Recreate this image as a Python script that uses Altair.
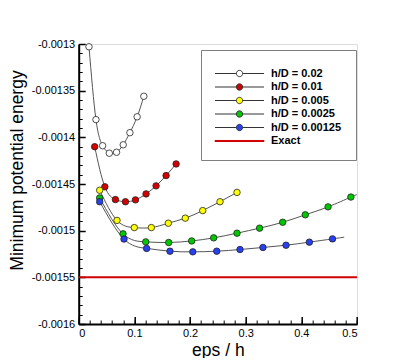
import altair as alt
import pandas as pd

# ---- data ----
series_names = ["h/D = 0.02", "h/D = 0.01", "h/D = 0.005", "h/D = 0.0025", "h/D = 0.00125", "Exact"]
series_colors = ["#ffffff", "#d40000", "#ffff00", "#00c800", "#2840f0", "#d00000"]

white_x = [0.0185, 0.031, 0.043, 0.055, 0.068, 0.080, 0.092, 0.105, 0.117]
white_y = [-0.001303, -0.001381, -0.001409, -0.001417, -0.001416, -0.001408, -0.001395, -0.001378, -0.001356]

red_x = [0.0287, 0.047, 0.066, 0.084, 0.102, 0.121, 0.139, 0.157, 0.175]
red_y = [-0.00141, -0.001453, -0.0014667, -0.001469, -0.001467, -0.0014606, -0.001452, -0.001441, -0.0014285]

yellow_x = [0.0377, 0.0688, 0.0999, 0.1305, 0.161, 0.1915, 0.2228, 0.2539, 0.2844]
yellow_y = [-0.0014567, -0.001489, -0.0014967, -0.0014967, -0.001492, -0.0014866, -0.0014785, -0.001469, -0.001459]

green_x = [0.0377, 0.0796, 0.1204, 0.1617, 0.203, 0.2425, 0.2844, 0.325, 0.3665, 0.4071, 0.448, 0.489]
green_y = [-0.0014649, -0.0015034, -0.001512, -0.0015127, -0.001511, -0.0015077, -0.0015027, -0.0014973,
           -0.001491, -0.001483, -0.0014745, -0.001464]
green_line_end = (0.5, -0.0014613)

blue_x = [0.0377, 0.0814, 0.122, 0.164, 0.205, 0.248, 0.2898, 0.331, 0.3725, 0.4144, 0.456]
blue_y = [-0.001469, -0.001509, -0.001519, -0.001522, -0.0015227, -0.001522, -0.0015202, -0.001518,
          -0.0015156, -0.0015123, -0.0015088]
blue_line_end = (0.477, -0.001507)

exact_x = [0.0, 0.5]
exact_y = [-0.00155, -0.00155]

x_major = [0, 0.1, 0.2, 0.3, 0.4, 0.5]
y_major = [-0.0016, -0.00155, -0.0015, -0.00145, -0.0014, -0.00135, -0.0013]
x_minor = [round(i * 0.02, 4) for i in range(26)]
y_minor = [round(-0.0016 + i * 0.00001, 7) for i in range(31)]

# ---- tables ----
pts_rows, line_rows = [], []
for name, col, xs, ys, tail in [
    (series_names[0], series_colors[0], white_x, white_y, None),
    (series_names[1], series_colors[1], red_x, red_y, None),
    (series_names[2], series_colors[2], yellow_x, yellow_y, None),
    (series_names[3], series_colors[3], green_x, green_y, green_line_end),
    (series_names[4], series_colors[4], blue_x, blue_y, blue_line_end),
]:
    for xv, yv in zip(xs, ys):
        pts_rows.append({"series": name, "x": xv, "y": yv, "color": col})
        line_rows.append({"series": name, "x": xv, "y": yv})
    if tail is not None:
        line_rows.append({"series": name, "x": tail[0], "y": tail[1]})

pts = pd.DataFrame(pts_rows)
lines = pd.DataFrame(line_rows)
exact = pd.DataFrame({"x": exact_x, "y": exact_y})
legend_df = pd.DataFrame({"series": series_names})

W, H = 278.3, 280
FONT = "Liberation Sans"

xscale = alt.Scale(domain=[0, 0.5], nice=False, zero=False)
yscale = alt.Scale(domain=[-0.0016, -0.0013], nice=False, zero=False)

main_x_axis = alt.Axis(orient="bottom", values=x_major, labelExpr="format(datum.value, '.1~f')",
                       ticks=False, tickSize=0, domainColor="black", domainWidth=2, grid=False,
                       labelFont=FONT, labelFontSize=11, labelColor="black", labelPadding=3,
                       title="eps / h", titleFont=FONT, titleFontSize=17.5, titleFontWeight="normal",
                       titleColor="black", titlePadding=3)
main_y_axis = alt.Axis(orient="left", values=y_major, labelExpr="'-' + format(-datum.value, '.5~f')",
                       ticks=False, tickSize=0, domainColor="black", domainWidth=2, grid=False,
                       labelFont=FONT, labelFontSize=11, labelColor="black", labelPadding=4,
                       title="Minimum potential energy", titleFont=FONT, titleFontSize=17.5,
                       titleFontWeight="normal", titleColor="black", titlePadding=5, titleY=126)

major_x_ticks = alt.Axis(orient="top", offset=-H, values=x_major, labels=False, domain=False, grid=False,
                         tickSize=7.5, tickWidth=1.5, tickColor="black", title=None)
major_y_ticks = alt.Axis(orient="right", offset=-W, values=y_major, labels=False, domain=False, grid=False,
                         tickSize=6.5, tickWidth=1.5, tickColor="black", title=None)
minor_x_ticks = alt.Axis(orient="top", offset=-H, values=x_minor, labels=False, domain=False, grid=False,
                         tickSize=4, tickWidth=1, tickColor="black", title=None)
minor_y_ticks = alt.Axis(orient="right", offset=-W, values=y_minor, labels=False, domain=False, grid=False,
                         tickSize=3.5, tickWidth=1, tickColor="black", title=None)

exact_layer = alt.Chart(exact).mark_line(color="#d00000", strokeWidth=2).encode(
    x=alt.X("x:Q", scale=xscale, axis=main_x_axis),
    y=alt.Y("y:Q", scale=yscale, axis=main_y_axis),
)

curve_layer = alt.Chart(lines).mark_line(color="#555555", strokeWidth=1, interpolate="natural").encode(
    x=alt.X("x:Q", scale=xscale, axis=major_x_ticks),
    y=alt.Y("y:Q", scale=yscale, axis=major_y_ticks),
    detail="series:N",
)

point_layer = alt.Chart(pts).mark_circle(size=42, stroke="#222222", strokeWidth=0.8, opacity=1).encode(
    x=alt.X("x:Q", scale=xscale, axis=minor_x_ticks),
    y=alt.Y("y:Q", scale=yscale, axis=minor_y_ticks),
    fill=alt.Fill("color:N", scale=None),
)

circ = "M-7,0L-0.9,0M0.9,0L7,0M-0.9,0A0.9,0.9,0,1,1,0.9,0A0.9,0.9,0,1,1,-0.9,0Z"
bar = "M-7,-0.15L7,-0.15L7,0.15L-7,0.15Z"
shapes = [circ] * 5 + [bar]
strokes = ["#333333"] * 5 + ["#d00000"]

leg = alt.Legend(title=" ", titleFontSize=4, titlePadding=0, orient="none", legendX=122.3, legendY=6,
                 padding=14, strokeColor="#808080", fillColor="white", labelFont=FONT, labelFontSize=11,
                 labelFontWeight="bold", labelColor="black", symbolSize=49, symbolStrokeWidth=1,
                 symbolOffset=19, labelOffset=26, rowPadding=1.5, labelLimit=300)

legend_layer = alt.Chart(legend_df).mark_point(filled=True, opacity=1).encode(
    fill=alt.Fill("series:N", scale=alt.Scale(domain=series_names, range=series_colors), legend=leg),
    stroke=alt.Stroke("series:N", scale=alt.Scale(domain=series_names, range=strokes), legend=leg),
    shape=alt.Shape("series:N", scale=alt.Scale(domain=series_names, range=shapes), legend=leg),
).transform_filter("false")

chart = alt.layer(exact_layer, curve_layer, point_layer, legend_layer).resolve_axis(
    x="independent", y="independent"
).properties(
    width=W, height=H,
    autosize=alt.AutoSizeParams(type="none"),
    padding={"left": 70.7, "top": 36, "right": 40, "bottom": 34},
).configure_view(stroke=None).configure(background="white")

chart.save("out.html", embed_options={"renderer": "svg", "actions": False})
